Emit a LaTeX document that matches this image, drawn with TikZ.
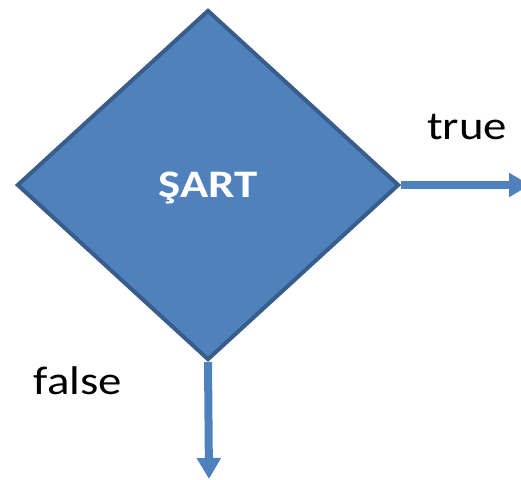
\documentclass[tikz,border=0pt]{standalone}
\usepackage{fontspec}
\setmainfont{Carlito}
\usetikzlibrary{shapes.geometric, arrows.meta}
\definecolor{boxblue}{HTML}{4F81BD}
\definecolor{boxedge}{HTML}{385D8A}
\tikzset{
  cond/.style={diamond, fill=boxblue, draw=boxedge, line width=4pt, inner sep=0pt,
    minimum width=382pt, minimum height=350pt, text=white,
    text height=25pt, text depth=0pt,
    font=\fontsize{39}{44}\selectfont\bfseries},
  flow/.style={draw=boxblue, line width=8pt, -{Triangle[width=23pt,length=21pt]}},
  lbl/.style={font=\fontsize{40}{46}\selectfont, text=black, inner sep=0pt, anchor=base}
}
\begin{document}
\begin{tikzpicture}[x=1pt,y=-1pt]
\useasboundingbox (0,0) rectangle (521,479);
\node[cond] (sart) at (208,185) {\scalebox{1.2}[1]{ŞART}};
\coordinate (yes) at (530,185);
\coordinate (no) at (209,479);
\draw[flow] (sart.east) -- (yes);
\draw[flow] (sart.south) -- (no);
\node[lbl] (truelbl) at (467,139) {\scalebox{1.17}[1]{true}};
\node[lbl] (falselbl) at (78,394) {\scalebox{1.17}[1]{false}};
\end{tikzpicture}
\end{document}
